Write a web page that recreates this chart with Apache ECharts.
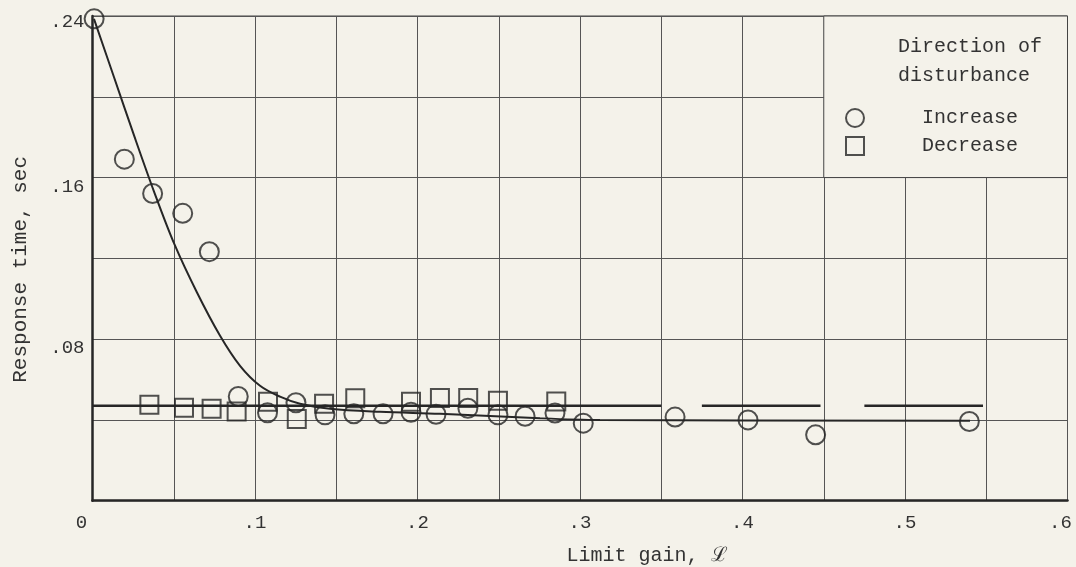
<!DOCTYPE html>
<html>
<head>
<meta charset="utf-8">
<script src="https://cdn.jsdelivr.net/npm/echarts@6/dist/echarts.min.js"></script>
<style>
  html, body { margin: 0; padding: 0; background: #f4f2ea; }
  #chart { width: 1076px; height: 567px; }
</style>
</head>
<body>
<div id="chart"></div>
<script>
// Response time versus limit gain, split by direction of disturbance.
const incGain = [0.001, 0.0196, 0.037, 0.0555, 0.0719, 0.0897, 0.1077, 0.1252, 0.1431, 0.1608, 0.1788,
                 0.196, 0.2114, 0.231, 0.2495, 0.2662, 0.2846, 0.302, 0.3585, 0.4034, 0.445, 0.5396];
const incTime = [0.2386, 0.1691, 0.1521, 0.1423, 0.1233, 0.0516, 0.0435, 0.0485, 0.0425, 0.043, 0.043,
                 0.0438, 0.0428, 0.0458, 0.0425, 0.0418, 0.0434, 0.0384, 0.0414, 0.040, 0.0326, 0.0392];

const decGain = [0.035, 0.0563, 0.0733, 0.0887, 0.108, 0.1257, 0.1425, 0.1617, 0.196, 0.2138, 0.2312, 0.2495, 0.2854];
const decTime = [0.0475, 0.046, 0.0455, 0.0442, 0.049, 0.0405, 0.048, 0.0507, 0.049, 0.0508, 0.0508, 0.0495, 0.0491];

// Faired curve through the "increase" points
const incCurveGain = [0.0009, 0.0132, 0.0255, 0.0378, 0.0502, 0.0643, 0.0785, 0.0908, 0.1031, 0.1154,
                      0.1277, 0.1462, 0.1769, 0.2138, 0.2754, 0.3123, 0.54];
const incCurveTime = [0.2386, 0.2098, 0.1810, 0.1532, 0.1274, 0.1031, 0.0817, 0.0668, 0.0569, 0.0515,
                      0.048, 0.0455, 0.044, 0.043, 0.0408, 0.0400, 0.0396];

// Faired level for the "decrease" points: solid, then dashed beyond the data
const decLevel = 0.047;
const decSegments = [[0, 0.35], [0.375, 0.448], [0.475, 0.548]];

const xTickLabels = ['0', '.1', '.2', '.3', '.4', '.5', '.6'];
const yTickLabels = ['', '.08', '.16', '.24'];

const INK = '#262626';
const TEXT = '#333';
const BG = '#f4f2ea';
const FONT = "'Courier New', 'Liberation Mono', monospace";

const incPoints = incGain.map((g, i) => [g, incTime[i]]);
const decPoints = decGain.map((g, i) => [g, decTime[i]]);
const incCurve = incCurveGain.map((g, i) => [g, incCurveTime[i]]);
const decLine = [];
decSegments.forEach(([a, b]) => {
  decLine.push([a, decLevel], [b, decLevel], [b + 0.005, '-']);
});

const chart = echarts.init(document.getElementById('chart'), null, { renderer: 'canvas' });

chart.setOption({
  backgroundColor: BG,
  animation: false,
  textStyle: { fontFamily: FONT, color: TEXT },
  title: {
    text: 'Direction of\ndisturbance',
    left: 893,
    top: 27,
    textStyle: { fontFamily: FONT, fontSize: 20, fontWeight: 'normal', color: TEXT, lineHeight: 29 }
  },
  legend: {
    data: ['Increase', 'Decrease'],
    orient: 'vertical',
    left: 840,
    top: 103,
    itemWidth: 18,
    itemHeight: 18,
    itemGap: 8,
    textStyle: { fontFamily: FONT, fontSize: 20, color: TEXT, padding: [0, 0, 0, 53] },
    selectedMode: false
  },
  grid: {
    left: 92.5, right: 8.5, top: 16, bottom: 66.3,
    outerBoundsMode: 'none',
    show: true, borderColor: '#444', borderWidth: 1, backgroundColor: 'transparent'
  },
  xAxis: {
    type: 'value', min: 0, max: 0.6, interval: 0.05,
    name: 'Limit gain, ℒ',
    nameLocation: 'middle',
    nameGap: 45,
    nameTextStyle: { fontFamily: FONT, fontSize: 20, color: TEXT, padding: [0, 0, 0, 134] },
    axisLine: { show: true, lineStyle: { color: INK, width: 2.5 } },
    axisTick: { show: false },
    splitLine: { show: true, lineStyle: { color: '#555', width: 1 } },
    axisLabel: {
      fontFamily: FONT, fontSize: 19, color: TEXT, margin: 13,
      formatter: function (v) {
        const k = Math.round(v * 100);
        if (k % 10 !== 0) return '';
        const idx = k / 10;
        if (idx === 0) return '{first|' + xTickLabels[idx] + '}';
        if (idx === xTickLabels.length - 1) return '{last|' + xTickLabels[idx] + '}';
        return xTickLabels[idx];
      },
      rich: {
        first: { fontFamily: FONT, fontSize: 19, color: TEXT, padding: [0, 22, 0, 0] },
        last: { fontFamily: FONT, fontSize: 19, color: TEXT, padding: [0, 14, 0, 0] }
      }
    }
  },
  yAxis: {
    type: 'value', min: 0, max: 0.24, interval: 0.04,
    name: 'Response time, sec',
    nameLocation: 'middle',
    nameGap: 62,
    nameTextStyle: { fontFamily: FONT, fontSize: 21, color: TEXT, padding: [0, 22, 0, 0] },
    axisLine: { show: true, lineStyle: { color: INK, width: 2.5 } },
    axisTick: { show: false },
    splitLine: { show: true, lineStyle: { color: '#555', width: 1 } },
    axisLabel: {
      fontFamily: FONT, fontSize: 19, color: TEXT, margin: 8,
      formatter: function (v) {
        const k = Math.round(v * 100);
        if (k % 8 !== 0 || k === 0) return '';
        const idx = k / 8;
        return (idx === yTickLabels.length - 1 ? '{top|' : '{mid|') + yTickLabels[idx] + '}';
      },
      rich: {
        top: { fontFamily: FONT, fontSize: 19, color: TEXT, padding: [12, 0, 0, 0] },
        mid: { fontFamily: FONT, fontSize: 19, color: TEXT, padding: [18, 0, 0, 0] }
      }
    }
  },
  series: [
    {
      name: 'Decrease fit',
      type: 'line',
      data: decLine,
      showSymbol: false,
      connectNulls: false,
      lineStyle: { color: INK, width: 2.5 },
      silent: true,
      z: 3,
      markArea: {
        silent: true,
        itemStyle: { color: BG, borderColor: '#444', borderWidth: 1 },
        data: [[{ coord: [0.45, 0.16] }, { coord: [0.6, 0.24] }]]
      }
    },
    {
      name: 'Increase fit',
      type: 'line',
      data: incCurve,
      smooth: 0.35,
      showSymbol: false,
      lineStyle: { color: INK, width: 2 },
      silent: true,
      z: 3
    },
    {
      name: 'Increase',
      type: 'scatter',
      data: incPoints,
      symbol: 'circle',
      symbolSize: 19,
      clip: false,
      itemStyle: { color: 'transparent', borderColor: INK, borderWidth: 2 },
      z: 4
    },
    {
      name: 'Decrease',
      type: 'scatter',
      data: decPoints,
      symbol: 'rect',
      symbolSize: 18,
      clip: false,
      itemStyle: { color: 'transparent', borderColor: INK, borderWidth: 2 },
      z: 4
    }
  ]
});
</script>
</body>
</html>
